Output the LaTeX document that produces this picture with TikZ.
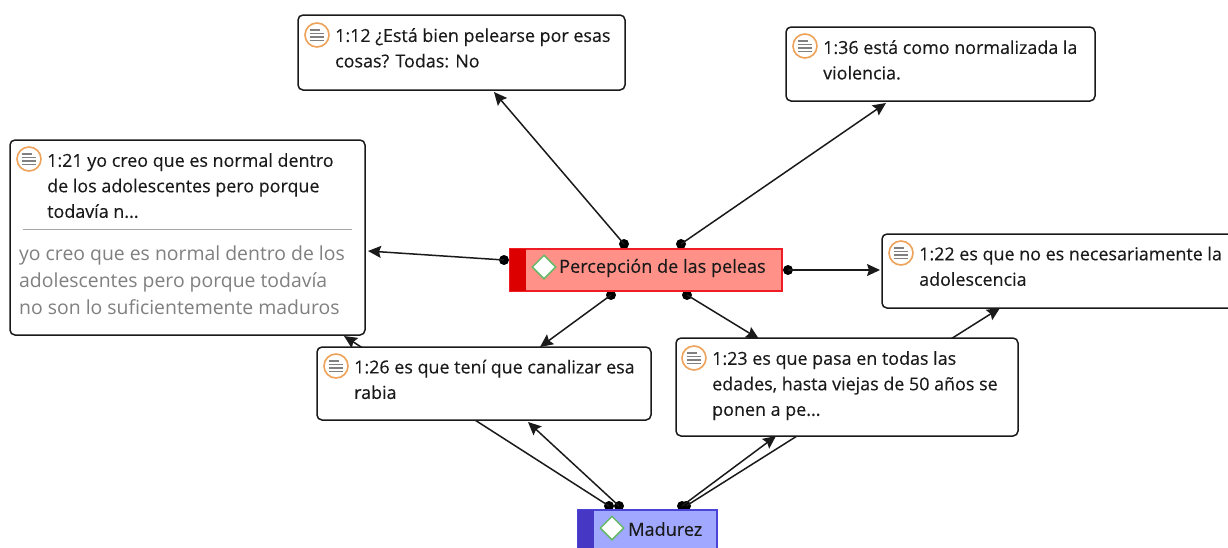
\documentclass[tikz,border=0pt]{standalone}
\usepackage{fontspec}
\newfontfamily\headfont{Open Sans}[FakeBold=0.25]
\newfontfamily\bodyfont{Open Sans}
\usetikzlibrary{arrows.meta,shapes.geometric}
\definecolor{ink}{HTML}{1A1A1A}
\definecolor{redfill}{HTML}{FF9188}
\definecolor{redline}{HTML}{EE1C24}
\definecolor{redstrip}{HTML}{DC0000}
\definecolor{bluefill}{HTML}{A0A9FF}
\definecolor{blueline}{HTML}{4A44D8}
\definecolor{bluestrip}{HTML}{4638C4}
\definecolor{iconring}{HTML}{EFA25A}
\definecolor{iconbar}{HTML}{808080}
\definecolor{bodygray}{HTML}{808080}
\tikzset{
  x=1pt,y=-1pt,
  quotebox/.style={draw=ink,line width=1.5pt,fill=white,rounded corners=5pt},
  headtext/.style={anchor=north west,align=left,inner sep=0pt,text=ink,font=\headfont\fontsize{17.9}{25.5}\selectfont},
  bodytext/.style={anchor=north west,align=left,inner sep=0pt,text=bodygray,font=\bodyfont\fontsize{19.4}{27}\selectfont},
  codetext/.style={anchor=west,inner sep=0pt,text=ink,font=\headfont\fontsize{18.1}{20}\selectfont},
  enddot/.style={circle,fill=black,inner sep=0pt,minimum size=10pt},
  link/.style={draw=ink,line width=1.5pt,-{Stealth[length=13pt,width=12pt,inset=2pt]}},
  codediamond/.style={diamond,draw=green!55!black!60,line width=1.5pt,fill=white,inner sep=0pt,minimum width=24pt,minimum height=24pt},
  ring/.style={circle,draw=iconring,line width=1.6pt,fill=white,inner sep=0pt,minimum size=24pt},
  bar/.style={draw=iconbar,line width=1.4pt}
}
\newcommand{\noteicon}[2]{%
  \node[ring] (#1) at (#2) {};
  \draw[bar] ([xshift=-7pt,yshift=-5.5pt]#1.center) -- ([xshift=7pt,yshift=-5.5pt]#1.center);
  \draw[bar] ([xshift=-7pt,yshift=-2pt]#1.center) -- ([xshift=7pt,yshift=-2pt]#1.center);
  \draw[bar] ([xshift=-7pt,yshift=1.5pt]#1.center) -- ([xshift=7pt,yshift=1.5pt]#1.center);
  \draw[bar] ([xshift=-7pt,yshift=5pt]#1.center) -- ([xshift=3pt,yshift=5pt]#1.center);
}
\begin{document}
\begin{tikzpicture}
\useasboundingbox (0,0) rectangle (1228,547);
% connector ends
\node[enddot] (d1) at (624,244) {};
\node[enddot] (d2) at (681,244) {};
\node[enddot] (d3) at (504,260) {};
\node[enddot] (d4) at (788,270) {};
\node[enddot] (d5) at (611,295) {};
\node[enddot] (d6) at (687,295) {};
\node[enddot] (m1) at (609,506) {};
\node[enddot] (m2) at (619,506) {};
\node[enddot] (m3) at (682,506) {};
\node[enddot] (m4) at (686,506) {};
\coordinate (t1) at (494,92);
\coordinate (t2) at (886,103);
\coordinate (t3) at (368,251);
\coordinate (t4) at (880,270);
\coordinate (t5) at (540,347);
\coordinate (t6) at (759,339);
\coordinate (t7) at (344,336);
\coordinate (t8) at (528,422);
\coordinate (t9) at (776,436);
\coordinate (t10) at (1000,308);
\draw[link] (d1.center) -- (t1);
\draw[link] (d2.center) -- (t2);
\draw[link] (d3.center) -- (t3);
\draw[link] (d4.center) -- (t4);
\draw[link] (d5.center) -- (t5);
\draw[link] (d6.center) -- (t6);
\draw[link] (m1.center) -- (t7);
\draw[link] (m2.center) -- (t8);
\draw[link] (m3.center) -- (t9);
\draw[link] (m4.center) -- (t10);
% quotation boxes
\path[quotebox] (298,15) rectangle (625,90);
\path[quotebox] (786,27) rectangle (1095,101);
\path[quotebox] (10,140) rectangle (365,335);
\path[quotebox] (882,234) rectangle (1240,308);
\path[quotebox] (317,347) rectangle (651,420);
\path[quotebox] (676,338) rectangle (1018,436);
\draw[draw=gray!70,line width=0.9pt] (23,229) -- (352,229);
% icons
\noteicon{i12}{317,35}
\noteicon{i36}{805,46}
\noteicon{i21}{29,159}
\noteicon{i22}{901,253}
\noteicon{i26}{336,366}
\noteicon{i23}{694,358}
% texts
\node[headtext] (q12) at (335,28) {1:12 ¿Está bien pelearse por esas\\cosas? Todas: No};
\node[headtext] (q36) at (823,40) {1:36 está como normalizada la\\violencia.};
\node[headtext] (q21) at (47,153) {1:21 yo creo que es normal dentro\\de los adolescentes pero porque\\todavía n...};
\node[bodytext] (q21b) at (19,246) {yo creo que es normal dentro de los\\adolescentes pero porque todavía\\no son lo suficientemente maduros};
\node[headtext] (q22) at (919,246.5) {1:22 es que no es necesariamente la\\adolescencia};
\node[headtext] (q26) at (354,359.5) {1:26 es que tení que canalizar esa\\rabia};
\node[headtext] (q23) at (712,351) {1:23 es que pasa en todas las\\edades, hasta viejas de 50 años se\\ponen a pe...};
% codes
\path[draw=redline,line width=1.2pt,fill=redfill] (510,249) rectangle (782,291);
\path[fill=redstrip] (510,249) rectangle (526,291);
\node[codediamond] (dp) at (544,267) {};
\node[codetext] (cp) at (559,268) {Percepción de las peleas};
\path[draw=blueline,line width=1.2pt,fill=bluefill] (578,510) rectangle (717,560);
\path[fill=bluestrip] (578,510) rectangle (594,560);
\node[codediamond] (dm) at (612,528) {};
\node[codetext] (cm) at (628,529) {Madurez};
\end{tikzpicture}
\end{document}
